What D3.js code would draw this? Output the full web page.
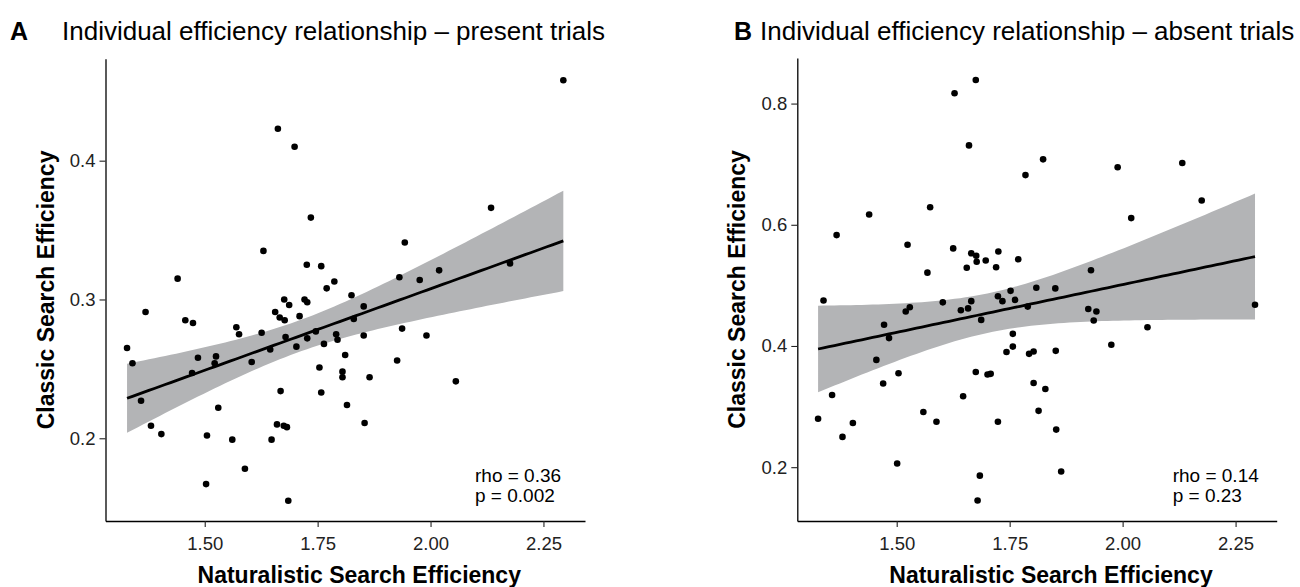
<!DOCTYPE html>
<html>
<head>
<meta charset="utf-8">
<script src="https://cdn.jsdelivr.net/npm/d3@7"></script>
<style>
  body { margin: 0; background: #fff; }
  svg { display: block; font-family: "Liberation Sans", Arial, Helvetica, sans-serif; }
</style>
</head>
<body>
<svg id="chart" width="1300" height="587"></svg>
<script>
// naturalistic (x) vs classic (y) search efficiency, one dot per participant
const presentX = [1.328,1.340,1.369,1.359,1.381,1.404,1.440,1.457,1.474,1.485,1.472,1.522,1.525,1.530,1.505,1.503,1.570,1.576,1.561,1.589,1.604,1.626,1.630,1.645,1.648,1.656,1.666,1.677,1.679,1.668,1.660,1.675,1.682,1.685,1.687,1.703,1.676,1.721,1.727,1.727,1.746,1.764,1.754,1.758,1.791,1.794,1.805,1.805,1.811,1.815,1.830,1.852,1.852,1.854,1.865,1.662,1.699,1.735,1.726,1.758,1.787,1.770,1.825,1.937,1.991,1.926,2.056,2.294,2.134,1.943,1.931,1.976,2.019,2.176,1.710];
const presentY = [0.265,0.254,0.291,0.227,0.209,0.203,0.315,0.285,0.283,0.258,0.247,0.254,0.259,0.222,0.202,0.167,0.280,0.275,0.199,0.178,0.255,0.276,0.335,0.264,0.199,0.291,0.287,0.285,0.273,0.234,0.210,0.209,0.208,0.155,0.296,0.266,0.300,0.300,0.298,0.272,0.277,0.268,0.251,0.233,0.275,0.271,0.248,0.244,0.260,0.224,0.286,0.295,0.274,0.211,0.244,0.423,0.410,0.359,0.325,0.324,0.313,0.308,0.303,0.279,0.274,0.256,0.241,0.458,0.366,0.341,0.316,0.314,0.321,0.326,0.288];

const absentX = [1.675,1.628,1.660,1.574,1.439,1.367,1.524,1.625,1.665,1.676,1.677,1.697,1.725,1.769,1.568,1.655,1.720,1.338,1.602,1.665,1.724,1.734,1.762,1.752,1.529,1.658,1.642,1.520,1.472,1.483,1.455,1.504,1.470,1.687,1.790,1.809,1.851,1.924,1.757,1.757,1.743,1.793,1.803,1.852,1.675,1.701,1.708,1.803,1.829,1.647,1.559,1.588,1.724,1.814,1.853,1.357,1.326,1.403,1.380,1.501,1.684,1.679,2.293,1.942,1.936,2.055,1.975,1.864,1.824,1.785,1.989,2.132,2.175,2.019,1.930];
const absentY = [0.839,0.817,0.731,0.629,0.617,0.583,0.567,0.561,0.553,0.549,0.539,0.541,0.556,0.543,0.521,0.529,0.530,0.475,0.472,0.474,0.482,0.474,0.476,0.491,0.464,0.462,0.459,0.457,0.435,0.413,0.377,0.355,0.338,0.443,0.465,0.496,0.495,0.461,0.420,0.399,0.390,0.387,0.391,0.392,0.357,0.353,0.354,0.339,0.329,0.317,0.291,0.275,0.275,0.293,0.262,0.319,0.280,0.273,0.250,0.206,0.186,0.145,0.468,0.457,0.442,0.431,0.402,0.193,0.708,0.682,0.695,0.702,0.640,0.611,0.525];

const xTicks = [1.50, 1.75, 2.00, 2.25];
const yTicksA = [0.2, 0.3, 0.4];
const yTicksB = [0.2, 0.4, 0.6, 0.8];

const titles = ["Individual efficiency relationship \u2013 present trials",
                "Individual efficiency relationship \u2013 absent trials"];
const statsA = ["rho = 0.36", "p = 0.002"];
const statsB = ["rho = 0.14", "p = 0.23"];

// layout of the two panels
const panels = [
  {tag: "A", title: titles[0], xs: presentX, ys: presentY, yTicks: yTicksA, stats: statsA,
   left: 105.5, right: 585, top: 58.8, bottom: 521,
   xDom: [1.2803, 2.342], yDom: [0.1404, 0.4734], statX: 475, tagX: 10, titleX: 62},
  {tag: "B", title: titles[1], xs: absentX, ys: absentY, yTicks: yTicksB, stats: statsB,
   left: 797.3, right: 1276.7, top: 58, bottom: 521,
   xDom: [1.28, 2.341], yDom: [0.1112, 0.8752], statX: 1172.7, tagX: 734, titleX: 760}
];

// ordinary least squares + 95% confidence band (like geom_smooth(method = "lm"))
function lmBand(xs, ys) {
  const n = xs.length;
  const mx = d3.mean(xs), my = d3.mean(ys);
  let sxx = 0, sxy = 0;
  for (let i = 0; i < n; i++) { sxx += (xs[i]-mx)**2; sxy += (xs[i]-mx)*(ys[i]-my); }
  const b = sxy / sxx, a = my - b*mx;
  let rss = 0;
  for (let i = 0; i < n; i++) rss += (ys[i] - a - b*xs[i])**2;
  const s = Math.sqrt(rss / (n-2));
  const t = 1.993;
  const [x0, x1] = d3.extent(xs);
  return d3.range(81).map(k => {
    const x = x0 + (x1-x0)*k/80;
    const fit = a + b*x;
    const se = s * Math.sqrt(1/n + (x-mx)**2/sxx);
    return {x: x, fit: fit, lo: fit - t*se, hi: fit + t*se};
  });
}

const svg = d3.select("#chart");

panels.forEach(p => {
  const x = d3.scaleLinear().domain(p.xDom).range([p.left, p.right]);
  const y = d3.scaleLinear().domain(p.yDom).range([p.bottom, p.top]);
  const g = svg.append("g");

  const band = lmBand(p.xs, p.ys);
  g.append("path")
    .datum(band)
    .attr("fill", "#b3b4b6")
    .attr("d", d3.area().x(d => x(d.x)).y0(d => y(d.lo)).y1(d => y(d.hi)));

  g.selectAll("circle")
    .data(d3.zip(p.xs, p.ys))
    .join("circle")
    .attr("cx", d => x(d[0]))
    .attr("cy", d => y(d[1]))
    .attr("r", 3.3)
    .attr("fill", "#000");

  g.append("path")
    .datum(band)
    .attr("fill", "none")
    .attr("stroke", "#000")
    .attr("stroke-width", 2.8)
    .attr("d", d3.line().x(d => x(d.x)).y(d => y(d.fit)));

  // axes
  const xa = g.append("g")
    .attr("transform", `translate(0,${p.bottom})`)
    .call(d3.axisBottom(x).tickValues(xTicks).tickFormat(d3.format(".2f"))
          .tickSize(6).tickSizeOuter(0).tickPadding(10));
  const ya = g.append("g")
    .attr("transform", `translate(${p.left},0)`)
    .call(d3.axisLeft(y).tickValues(p.yTicks).tickFormat(d3.format(".1f"))
          .tickSize(6).tickSizeOuter(0).tickPadding(4));
  [xa, ya].forEach(a => {
    a.select(".domain").attr("stroke", "#000").attr("stroke-width", 1.3);
    a.selectAll(".tick line").attr("stroke", "#222").attr("stroke-width", 1.1);
    a.selectAll(".tick text").attr("fill", "#222").style("font-size", "18.5px")
      .style("font-family", "\"Liberation Sans\", Arial, sans-serif");
  });

  // axis titles
  g.append("text")
    .attr("x", (p.left + p.right)/2 + 14)
    .attr("y", 583)
    .attr("text-anchor", "middle")
    .style("font-weight", "bold").style("font-size", "23px")
    .text("Naturalistic Search Efficiency");
  g.append("text")
    .attr("transform", `translate(${p.left - 52},${(p.top + p.bottom)/2}) rotate(-90)`)
    .attr("text-anchor", "middle")
    .style("font-weight", "bold").style("font-size", "23px")
    .text("Classic Search Efficiency");

  // panel tag and title
  g.append("text")
    .attr("x", p.tagX).attr("y", 40)
    .style("font-weight", "bold").style("font-size", "25px")
    .text(p.tag);
  g.append("text")
    .attr("x", p.titleX).attr("y", 40)
    .style("font-size", "26px")
    .text(p.title);

  // correlation annotation
  g.selectAll("text.stat")
    .data(p.stats)
    .join("text")
    .attr("class", "stat")
    .attr("x", p.statX)
    .attr("y", (d, i) => 482 + i*19.5)
    .style("font-size", "19px")
    .text(d => d);
});
</script>
</body>
</html>
